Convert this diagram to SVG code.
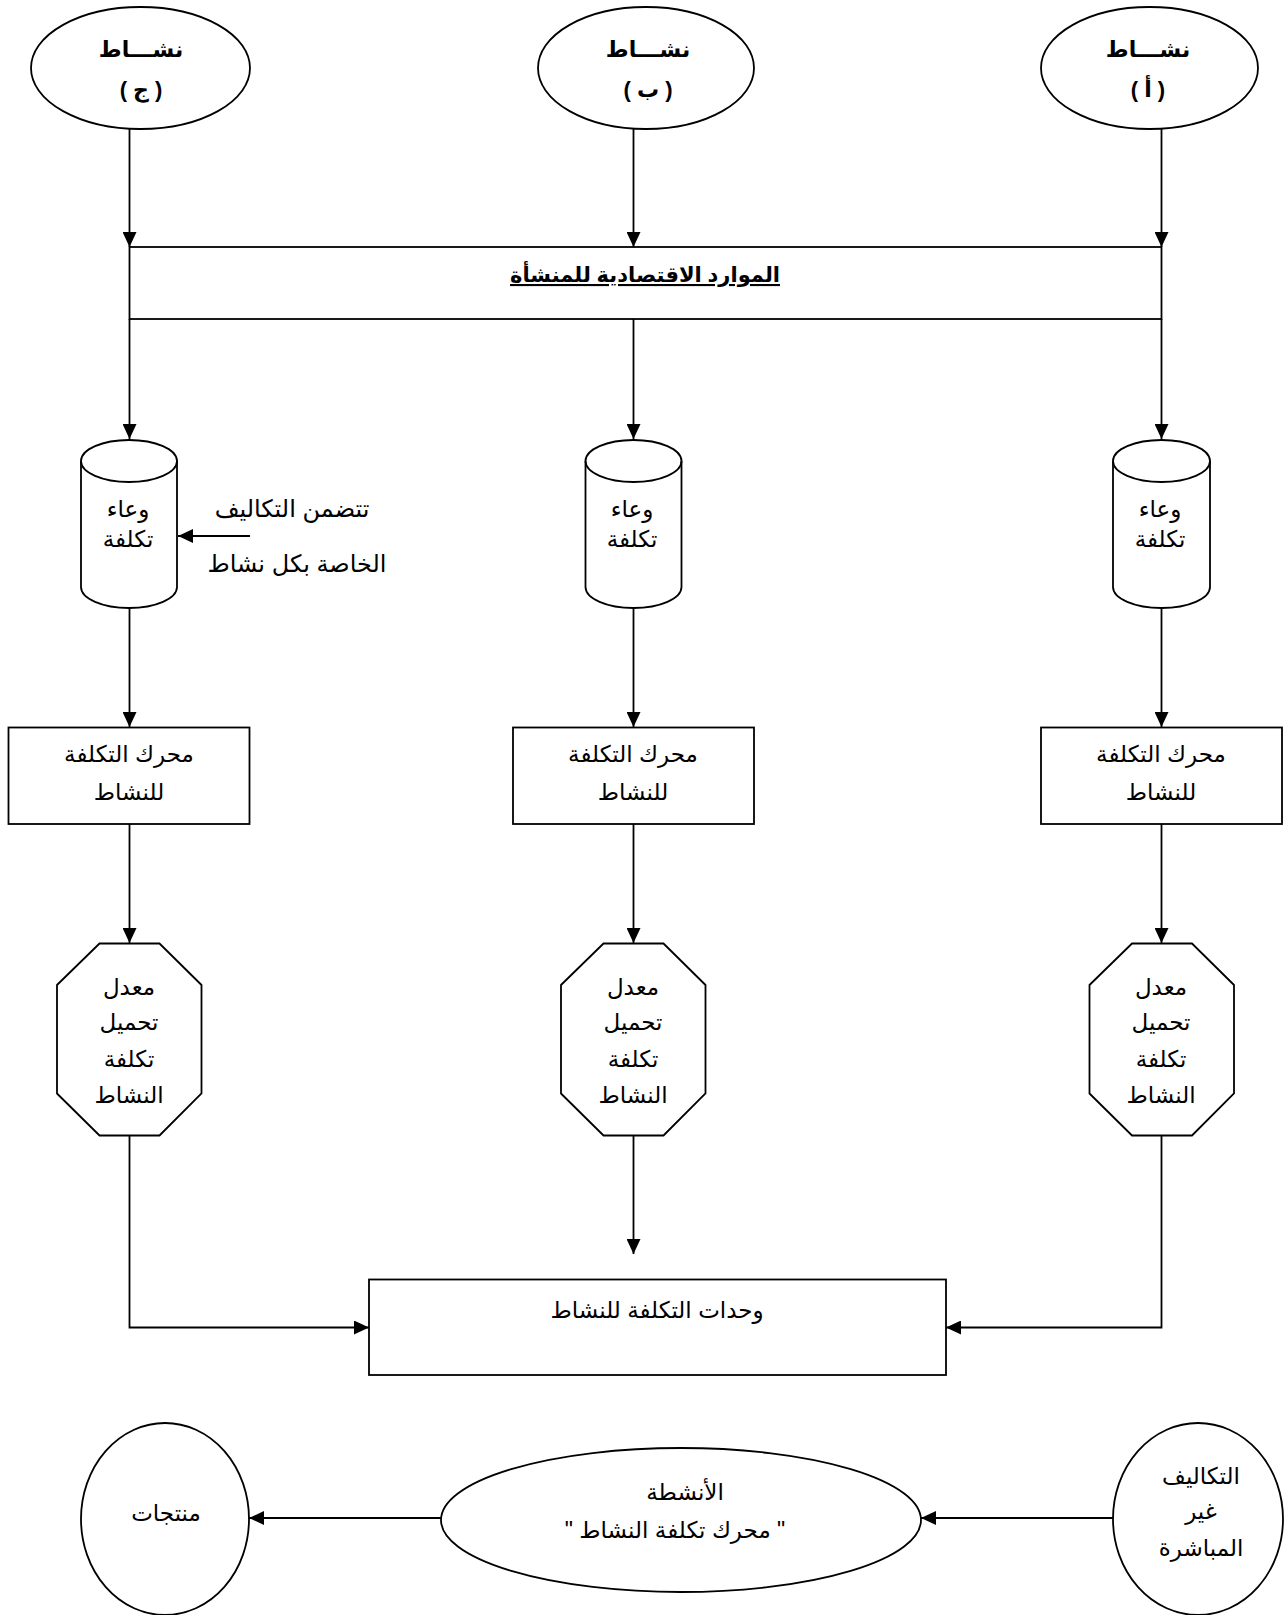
<svg xmlns="http://www.w3.org/2000/svg" width="1286" height="1615" viewBox="0 0 1286 1615">
<defs>
<style>
.s{fill:#fff;stroke:#000;stroke-width:1.8}
.c{fill:none;stroke:#000;stroke-width:1.8}
.t{font-family:'Liberation Sans','DejaVu Sans',sans-serif;font-size:23px;fill:#000;text-anchor:middle;direction:rtl;unicode-bidi:embed}
.b{font-weight:bold;font-size:22px}
.n{font-size:24px}
</style>
<marker id="ah" markerUnits="userSpaceOnUse" markerWidth="15" markerHeight="14" refX="15" refY="7" orient="auto">
<path d="M0,0 L15,7 L0,14 z" fill="#000"/>
</marker>
</defs>
<rect width="1286" height="1615" fill="#fff"/>

<g id="connectors">
<path class="c" d="M129.5,129 V247" marker-end="url(#ah)"/>
<path class="c" d="M633.5,129 V247" marker-end="url(#ah)"/>
<path class="c" d="M1161.5,129 V247" marker-end="url(#ah)"/>
<path class="c" d="M129.5,319 V439" marker-end="url(#ah)"/>
<path class="c" d="M633.5,319 V439" marker-end="url(#ah)"/>
<path class="c" d="M1161.5,319 V439" marker-end="url(#ah)"/>
<path class="c" d="M250,536 H178" marker-end="url(#ah)"/>
<path class="c" d="M129.5,608 V727" marker-end="url(#ah)"/>
<path class="c" d="M633.5,608 V727" marker-end="url(#ah)"/>
<path class="c" d="M1161.5,608 V727" marker-end="url(#ah)"/>
<path class="c" d="M129.5,824 V943" marker-end="url(#ah)"/>
<path class="c" d="M633.5,824 V943" marker-end="url(#ah)"/>
<path class="c" d="M1161.5,824 V943" marker-end="url(#ah)"/>
<path class="c" d="M129.5,1136 V1327.5 H369" marker-end="url(#ah)"/>
<path class="c" d="M633.5,1136 V1254" marker-end="url(#ah)"/>
<path class="c" d="M1161.5,1136 V1327.5 H946" marker-end="url(#ah)"/>
<path class="c" d="M1113,1518 H921" marker-end="url(#ah)"/>
<path class="c" d="M441,1518 H249" marker-end="url(#ah)"/>
</g>

<g id="activity-c">
<ellipse class="s" cx="140.5" cy="68" rx="109.5" ry="61"/>
<text class="t b" x="141" y="57">نشـــاط</text>
<text class="t b" x="141" y="97">( ج )</text>
</g>
<g id="activity-b">
<ellipse class="s" cx="646" cy="68" rx="108" ry="61"/>
<text class="t b" x="648" y="57">نشـــاط</text>
<text class="t b" x="648" y="97">( ب )</text>
</g>
<g id="activity-a">
<ellipse class="s" cx="1149.5" cy="68" rx="108.5" ry="61"/>
<text class="t b" x="1148" y="57">نشـــاط</text>
<text class="t b" x="1148" y="97">( أ )</text>
</g>

<g id="resources">
<rect class="c" x="129.5" y="247" width="1032" height="72"/>
<text class="t b" x="645" y="282" style="font-size:21px" text-decoration="underline">الموارد الاقتصادية للمنشأة</text>
</g>

<g id="pool-c">
<path class="s" d="M81,461 V587 A48,21 0 0 0 177,587 V461 A48,21 0 0 0 81,461 Z"/>
<path class="c" d="M81,461 A48,21 0 0 0 177,461"/>
<text class="t" x="128" y="517">وعاء</text>
<text class="t" x="128" y="547">تكلفة</text>
</g>
<g id="pool-b">
<path class="s" d="M585.5,461 V587 A48,21 0 0 0 681.5,587 V461 A48,21 0 0 0 585.5,461 Z"/>
<path class="c" d="M585.5,461 A48,21 0 0 0 681.5,461"/>
<text class="t" x="632" y="517">وعاء</text>
<text class="t" x="632" y="547">تكلفة</text>
</g>
<g id="pool-a">
<path class="s" d="M1113,461 V587 A48.5,21 0 0 0 1210,587 V461 A48.5,21 0 0 0 1113,461 Z"/>
<path class="c" d="M1113,461 A48.5,21 0 0 0 1210,461"/>
<text class="t" x="1160" y="517">وعاء</text>
<text class="t" x="1160" y="547">تكلفة</text>
</g>

<g id="note">
<text class="t n" x="292" y="517">تتضمن التكاليف</text>
<text class="t n" x="297" y="572">الخاصة بكل نشاط</text>
</g>

<g id="driver-c">
<rect class="s" x="8.5" y="727.5" width="241" height="96.5"/>
<text class="t" x="129" y="762">محرك التكلفة</text>
<text class="t" x="129" y="800">للنشاط</text>
</g>
<g id="driver-b">
<rect class="s" x="513" y="727.5" width="241" height="96.5"/>
<text class="t" x="633" y="762">محرك التكلفة</text>
<text class="t" x="633" y="800">للنشاط</text>
</g>
<g id="driver-a">
<rect class="s" x="1041" y="727.5" width="241" height="96.5"/>
<text class="t" x="1161" y="762">محرك التكلفة</text>
<text class="t" x="1161" y="800">للنشاط</text>
</g>

<g id="rate-c">
<polygon class="s" points="99.5,943.5 159.5,943.5 201.5,985 201.5,1093.5 159.5,1135.5 99.5,1135.5 57,1093.5 57,985"/>
<text class="t" x="129" y="995">معدل</text>
<text class="t" x="129" y="1030">تحميل</text>
<text class="t" x="129" y="1067">تكلفة</text>
<text class="t" x="129" y="1103">النشاط</text>
</g>
<g id="rate-b">
<polygon class="s" points="603.5,943.5 663.5,943.5 705.5,985 705.5,1093.5 663.5,1135.5 603.5,1135.5 561,1093.5 561,985"/>
<text class="t" x="633" y="995">معدل</text>
<text class="t" x="633" y="1030">تحميل</text>
<text class="t" x="633" y="1067">تكلفة</text>
<text class="t" x="633" y="1103">النشاط</text>
</g>
<g id="rate-a">
<polygon class="s" points="1132,943.5 1192,943.5 1234,985 1234,1093.5 1192,1135.5 1132,1135.5 1089.5,1093.5 1089.5,985"/>
<text class="t" x="1161" y="995">معدل</text>
<text class="t" x="1161" y="1030">تحميل</text>
<text class="t" x="1161" y="1067">تكلفة</text>
<text class="t" x="1161" y="1103">النشاط</text>
</g>

<g id="cost-units">
<rect class="s" x="369" y="1279.5" width="577" height="95.5"/>
<text class="t" x="657" y="1318">وحدات التكلفة للنشاط</text>
</g>

<g id="products">
<ellipse class="s" cx="165" cy="1519" rx="84" ry="96"/>
<text class="t" x="166" y="1521">منتجات</text>
</g>
<g id="activities-driver">
<ellipse class="s" cx="681" cy="1520" rx="240" ry="72"/>
<text class="t" x="685" y="1500">الأنشطة</text>
<text class="t" x="675" y="1538">" محرك تكلفة النشاط "</text>
</g>
<g id="indirect-costs">
<ellipse class="s" cx="1198" cy="1519" rx="85" ry="96"/>
<text class="t" x="1201" y="1484">التكاليف</text>
<text class="t" x="1201" y="1519">غير</text>
<text class="t" x="1201" y="1556">المباشرة</text>
</g>
</svg>
